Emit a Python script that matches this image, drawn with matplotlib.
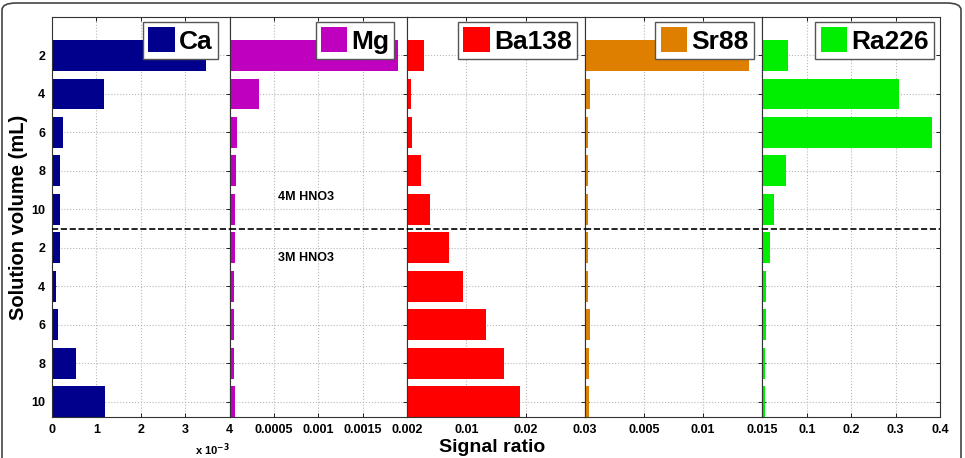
import matplotlib.pyplot as plt
import numpy as np
from matplotlib.patches import FancyBboxPatch

plt.rcParams['font.family'] = ['Liberation Sans', 'DejaVu Sans']
plt.rcParams['font.weight'] = 'bold'

volumes = ['2', '4', '6', '8', '10', '2', '4', '6', '8', '10']

elements = ['Ca', 'Mg', 'Ba138', 'Sr88', 'Ra226']
colors = ['#00008C', '#BF00BF', '#FF0000', '#DF7F00', '#00EE00']

ca = [3.46e-3, 1.16e-3, 0.25e-3, 0.19e-3, 0.18e-3, 0.17e-3, 0.10e-3, 0.14e-3, 0.53e-3, 1.20e-3]
mg = [0.0019, 0.00033, 0.000082, 0.000068, 0.000064, 0.000065, 0.000045, 0.000045, 0.00005, 0.00006]
ba138 = [0.0028, 0.00058, 0.00075, 0.0023, 0.0038, 0.0071, 0.0095, 0.0133, 0.0163, 0.0191]
sr88 = [0.0139, 0.00042, 0.00031, 0.00028, 0.0003, 0.00025, 0.00028, 0.00042, 0.00036, 0.00036]
ra226 = [0.0566, 0.308, 0.383, 0.0536, 0.025, 0.016, 0.009, 0.008, 0.0053, 0.006]
series = [ca, mg, ba138, sr88, ra226]

xmax = [4e-3, 0.002, 0.03, 0.015, 0.4]
xticks = [
    [0, 1e-3, 2e-3, 3e-3, 4e-3],
    [0, 0.0005, 0.001, 0.0015, 0.002],
    [0, 0.01, 0.02, 0.03],
    [0, 0.005, 0.01, 0.015],
    [0, 0.1, 0.2, 0.3, 0.4],
]
xticklabels = [
    ['0', '1', '2', '3', '4'],
    ['', '0.0005', '0.001', '0.0015', '0.002'],
    ['', '0.01', '0.02', '0.03'],
    ['', '0.005', '0.01', '0.015'],
    ['', '0.1', '0.2', '0.3', '0.4'],
]
# legend right edge, in axes fraction
legend_x = [0.932, 0.928, 0.955, 0.95, 0.965]

fig = plt.figure(figsize=(9.65, 4.58), dpi=100)

left = 52 / 965
width = 177.6 / 965
bottom = 1 - 417 / 458
height = 400 / 458

y = np.arange(1, len(volumes) + 1)
axes = []
for i, (name, vals) in enumerate(zip(elements, series)):
    ax = fig.add_axes([left + i * width, bottom, width, height])
    ax.barh(y, vals, height=0.8, color=colors[i], label=name, zorder=2)
    ax.set_xlim(0, xmax[i])
    ax.set_ylim(10.4, 0)
    ax.set_xticks(xticks[i])
    ax.set_xticklabels(xticklabels[i], fontsize=9, fontweight='bold')
    ax.set_yticks(y)
    if i == 0:
        ax.set_yticklabels(volumes, fontsize=9, fontweight='bold')
    else:
        ax.set_yticklabels([])
    ax.tick_params(direction='in', length=3, top=True, right=True, width=0.6, pad=5)
    ax.grid(True, linestyle=':', color='#b8b8b8', linewidth=0.8, zorder=0)
    ax.axhline(5.5, color='black', linestyle='--', linewidth=1.2, zorder=3)
    for s in ax.spines.values():
        s.set_color('#333333')
        s.set_linewidth(0.8)
    ax.legend(loc='upper right', bbox_to_anchor=(legend_x[i], 0.988), borderaxespad=0,
              prop={'size': 19, 'weight': 'bold'}, handlelength=1.0, handleheight=1.1,
              handletextpad=0.15, borderpad=0.2, fancybox=False, edgecolor='#555555',
              framealpha=1)
    axes.append(ax)

axes[0].set_ylabel('Solution volume (mL)', fontsize=14.5, fontweight='bold', labelpad=2)
axes[1].text(0.43, 0.55, '4M HNO3', transform=axes[1].transAxes, ha='center', va='center',
             fontsize=9, fontweight='bold')
axes[1].text(0.43, 0.3975, '3M HNO3', transform=axes[1].transAxes, ha='center', va='center',
             fontsize=9, fontweight='bold')

fig.text(212 / 965, 1 - 450 / 458, r'x 10$^{-3}$', ha='center', va='center', fontsize=8,
         fontweight='bold')
fig.text(492 / 965, 1 - 447 / 458, 'Signal ratio', ha='center', va='center', fontsize=14,
         fontweight='bold')

border = FancyBboxPatch((2 / 965, -0.05), 959 / 965, 1 - 3 / 458 + 0.05,
                        boxstyle='round,pad=0,rounding_size=0.015', transform=fig.transFigure,
                        facecolor='none', edgecolor='#444444', linewidth=1.2)
fig.patches.append(border)

fig.savefig('out.png', dpi=100)
